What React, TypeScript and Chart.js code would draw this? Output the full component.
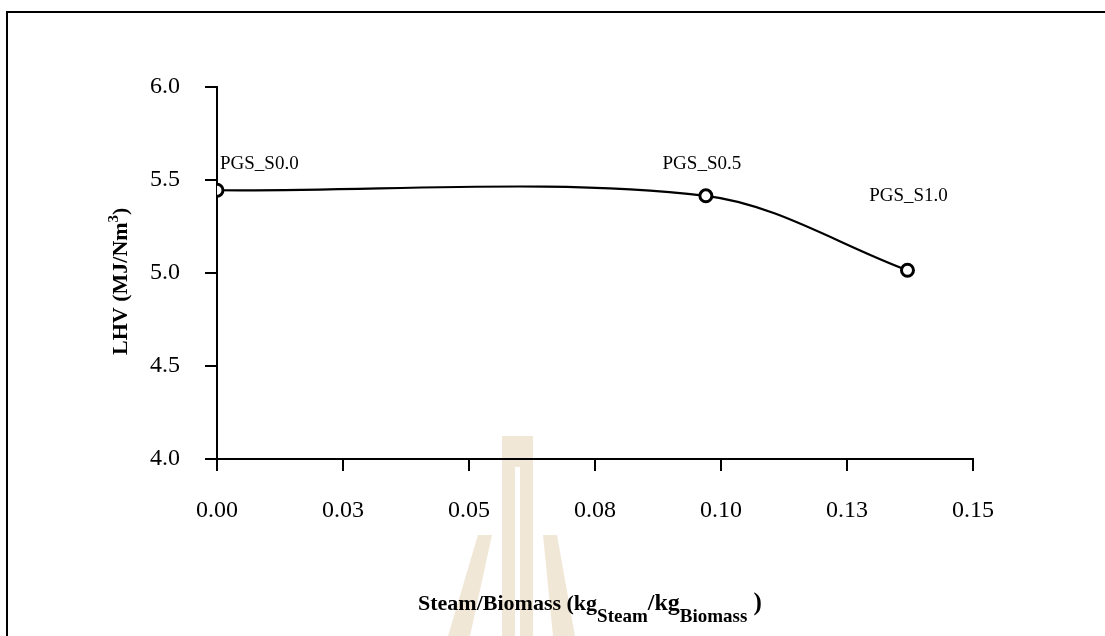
import React, { useEffect, useRef } from "react";
import { Chart, registerables } from "chart.js";

Chart.register(...registerables);

// ---- data ----
const caseLabels = ["PGS_S0.0", "PGS_S0.5", "PGS_S1.0"];
const steamRatio = [0, 0.097, 0.137];
const lhv = [5.445, 5.415, 5.015];
const xTickLabels = ["0.00", "0.03", "0.05", "0.08", "0.10", "0.13", "0.15"];
const yTickLabels = ["4.0", "4.5", "5.0", "5.5", "6.0"];

// ---- style ----
const W = 1105;
const H = 636;
const SERIF = "'Liberation Serif', 'Times New Roman', serif";
// label offsets relative to each point: [dx, dy, align]
const labelOffsets: [number, number, CanvasTextAlign][] = [
  [3, -21, "left"],
  [-4, -27, "center"],
  [1, -69, "center"],
];

const decorPlugin = {
  id: "decor",
  beforeDraw(chart: any) {
    const ctx = chart.ctx;
    ctx.save();
    ctx.fillStyle = "#fff";
    ctx.fillRect(0, 0, W, H);
    // faint background watermark (emblem)
    ctx.fillStyle = "#f1e7d6";
    ctx.fillRect(502, 436, 31, 31);
    ctx.fillRect(502, 467, 13, 169);
    ctx.fillRect(520, 467, 13, 169);
    ctx.beginPath();
    ctx.moveTo(478, 535);
    ctx.lineTo(492, 535);
    ctx.lineTo(470, 636);
    ctx.lineTo(448, 636);
    ctx.closePath();
    ctx.fill();
    ctx.beginPath();
    ctx.moveTo(543, 535);
    ctx.lineTo(557, 535);
    ctx.lineTo(575, 636);
    ctx.lineTo(553, 636);
    ctx.closePath();
    ctx.fill();
    // frame
    ctx.strokeStyle = "#000";
    ctx.lineWidth = 2;
    ctx.beginPath();
    ctx.moveTo(7, H);
    ctx.lineTo(7, 12);
    ctx.lineTo(W, 12);
    ctx.stroke();
    ctx.restore();
  },
  afterDraw(chart: any) {
    const ctx = chart.ctx;
    ctx.save();
    ctx.fillStyle = "#000";
    ctx.textBaseline = "alphabetic";

    // x axis title with subscripts
    const parts: [string, number, number][] = [
      ["Steam/Biomass (kg", 22, 0],
      ["Steam", 19, 12],
      ["/kg", 24, 0],
      ["Biomass", 19, 12],
      [" )", 25, 0],
    ];
    let x = 418;
    const base = 610;
    for (const [t, size, off] of parts) {
      ctx.font = `bold ${size}px ${SERIF}`;
      ctx.textAlign = "left";
      ctx.fillText(t, x, base + off);
      x += ctx.measureText(t).width;
    }

    // y axis title (rotated) with superscript
    ctx.translate(127, 355);
    ctx.rotate(-Math.PI / 2);
    const yparts: [string, boolean][] = [
      ["LHV (MJ/Nm", false],
      ["3", true],
      [")", false],
    ];
    let yx = 0;
    for (const [t, sup] of yparts) {
      ctx.font = `bold ${sup ? 15 : 22}px ${SERIF}`;
      ctx.textAlign = "left";
      ctx.fillText(t, yx, sup ? -9 : 0);
      yx += ctx.measureText(t).width;
    }
    ctx.restore();
  },
  afterDatasetsDraw(chart: any) {
    const ctx = chart.ctx;
    const meta = chart.getDatasetMeta(0);
    ctx.save();
    ctx.fillStyle = "#000";
    ctx.font = `19px ${SERIF}`;
    ctx.textBaseline = "alphabetic";
    meta.data.forEach((pt: any, i: number) => {
      const [dx, dy, align] = labelOffsets[i];
      ctx.textAlign = align;
      ctx.fillText(caseLabels[i], pt.x + dx, pt.y + dy);
    });
    ctx.restore();
  },
};

export default function App() {
  const ref = useRef<HTMLCanvasElement | null>(null);

  useEffect(() => {
    if (!ref.current) return;
    const chart = new Chart(ref.current, {
      type: "line",
      data: {
        datasets: [
          {
            label: "LHV",
            data: steamRatio.map((v, i) => ({ x: v, y: lhv[i] })),
            borderColor: "#000",
            borderWidth: 2.2,
            tension: 0.33,
            fill: false,
            pointStyle: "circle",
            pointRadius: 6,
            pointBorderWidth: 3,
            pointBackgroundColor: "#fff",
            pointBorderColor: "#000",
          },
        ],
      },
      options: {
        responsive: false,
        animation: false,
        events: [],
        layout: { padding: { left: 0, top: 87, right: W - 973, bottom: 0 } },
        plugins: {
          legend: { display: false },
          tooltip: { enabled: false },
          title: { display: false },
        },
        scales: {
          x: {
            type: "linear",
            min: 0,
            max: 0.15,
            afterFit: (s: any) => {
              s.height = H - 459;
            },
            afterBuildTicks: (s: any) => {
              s.ticks = xTickLabels.map((_, i) => ({ value: (0.15 * i) / (xTickLabels.length - 1) }));
            },
            ticks: {
              callback: (_v: any, i: number) => xTickLabels[i],
              font: { family: SERIF, size: 24 },
              color: "#000",
              padding: 25,
              maxRotation: 0,
              autoSkip: false,
            },
            grid: {
              display: true,
              drawOnChartArea: false,
              drawTicks: true,
              tickLength: 12,
              color: "#000",
              lineWidth: 2,
            },
            border: { display: true, color: "#000", width: 2 },
          },
          y: {
            type: "linear",
            min: 4,
            max: 6,
            afterFit: (s: any) => {
              s.width = 217;
            },
            afterBuildTicks: (s: any) => {
              s.ticks = yTickLabels.map((_, i) => ({ value: 4 + (2 * i) / (yTickLabels.length - 1) }));
            },
            ticks: {
              callback: (_v: any, i: number) => yTickLabels[i],
              font: { family: SERIF, size: 24 },
              color: "#000",
              padding: 25,
              autoSkip: false,
            },
            grid: {
              display: true,
              drawOnChartArea: false,
              drawTicks: true,
              tickLength: 12,
              color: "#000",
              lineWidth: 2,
            },
            border: { display: true, color: "#000", width: 2 },
          },
        },
      },
      plugins: [decorPlugin],
    });
    return () => chart.destroy();
  }, []);

  return (
    <div style={{ position: "absolute", left: 0, top: 0, width: W, height: H }}>
      <canvas ref={ref} width={W} height={H} style={{ display: "block" }} />
    </div>
  );
}
